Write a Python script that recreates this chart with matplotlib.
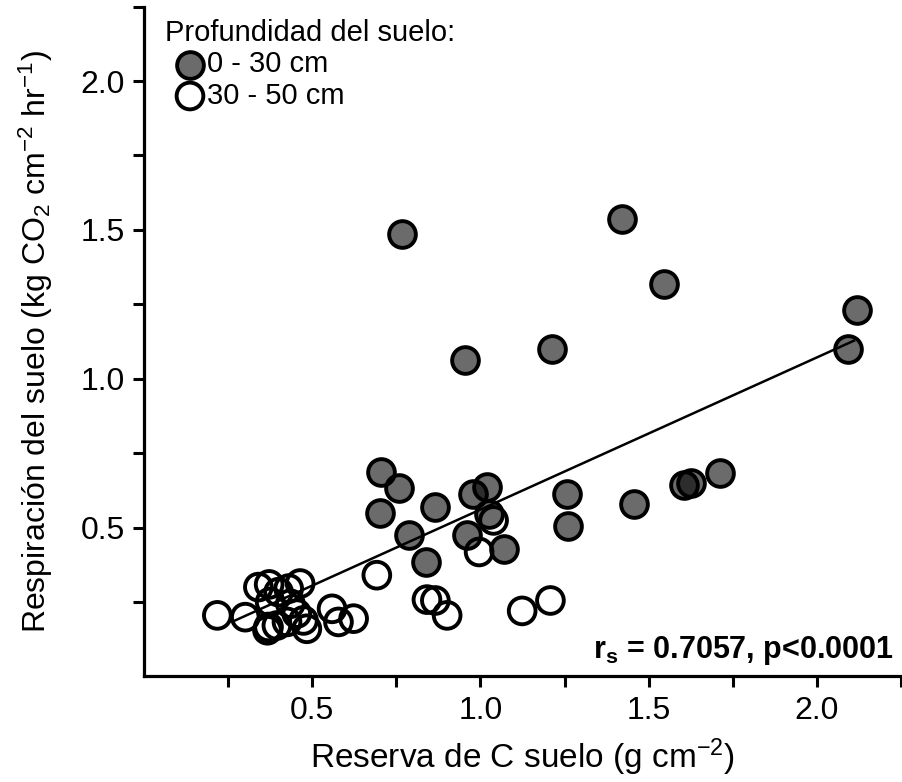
import numpy as np
import matplotlib
matplotlib.use("Agg")
import matplotlib.pyplot as plt
from matplotlib.ticker import FixedLocator

plt.rcParams['font.family'] = ['Liberation Sans', 'DejaVu Sans']
plt.rcParams['mathtext.fontset'] = 'custom'
plt.rcParams['mathtext.rm'] = 'Liberation Sans'
plt.rcParams['mathtext.it'] = 'Liberation Sans:italic'
plt.rcParams['mathtext.bf'] = 'Liberation Sans:bold'

# 0 - 30 cm (filled)
x_0_30 = [0.768, 1.420, 1.547, 2.118, 2.091, 1.214, 0.953, 0.705, 0.759, 0.702,
          0.866, 0.789, 0.839, 0.978, 1.018, 1.024, 0.960, 1.069, 1.712, 1.625,
          1.605, 1.256, 1.259, 1.457]
y_0_30 = [1.486, 1.538, 1.317, 1.230, 1.101, 1.101, 1.062, 0.685, 0.634, 0.548,
          0.568, 0.476, 0.383, 0.614, 0.636, 0.545, 0.476, 0.428, 0.682, 0.650,
          0.642, 0.612, 0.504, 0.580]

# 30 - 50 cm (open)
x_30_50 = [0.996, 0.692, 0.841, 0.866, 0.901, 1.124, 1.208, 1.039, 0.218, 0.301,
           0.340, 0.372, 0.400, 0.464, 0.430, 0.375, 0.435, 0.454, 0.370, 0.395,
           0.367, 0.425, 0.484, 0.474, 0.559, 0.578, 0.623]
y_30_50 = [0.418, 0.340, 0.258, 0.255, 0.205, 0.220, 0.255, 0.524, 0.205, 0.199,
           0.300, 0.309, 0.283, 0.312, 0.295, 0.250, 0.244, 0.211, 0.166, 0.171,
           0.155, 0.183, 0.160, 0.188, 0.227, 0.183, 0.194]

# regression line
fit_x_range = [0.27, 2.11]
fit_slope = 0.511
fit_intercept = 0.0495

labels = ["0 - 30 cm", "30 - 50 cm"]
legend_title = "Profundidad del suelo:"
stat_text = r"r$_{\mathbf{s}}$ = 0.7057, p<0.0001"
xlabel = r"Reserva de C suelo (g cm$^{-2}$)"
ylabel = r"Respiración del suelo (kg CO$_2$ cm$^{-2}$ hr$^{-1}$)"
tick_vals = [0.5, 1.0, 1.5, 2.0]
tick_labels = ["0.5", "1.0", "1.5", "2.0"]
minor_vals = [0.25, 0.75, 1.25, 1.75, 2.25]

fig = plt.figure(figsize=(9.03, 7.82), dpi=100)
ax = fig.add_axes([144/903, 1 - 676.4/782, (901 - 144)/903, (676.4 - 6.6)/782])

lx = np.array(fit_x_range)
ax.plot(lx, fit_intercept + fit_slope * lx, color='black', lw=1.8, zorder=2)

msize = 370
lw = 2.8
ax.scatter(x_30_50, y_30_50, s=msize, facecolors='none', edgecolors='black',
           linewidths=lw, zorder=3, label=labels[1])
ax.scatter(x_0_30, y_0_30, s=msize, facecolors=(0, 0, 0, 0.58), edgecolors='black',
           linewidths=lw, zorder=4, label=labels[0])

ax.set_xlim(0, 2.25)
ax.set_ylim(0, 2.25)
ax.xaxis.set_major_locator(FixedLocator(tick_vals))
ax.xaxis.set_minor_locator(FixedLocator(minor_vals))
ax.yaxis.set_major_locator(FixedLocator(tick_vals))
ax.yaxis.set_minor_locator(FixedLocator(minor_vals))
ax.set_xticklabels(tick_labels)
ax.set_yticklabels(tick_labels)

for side in ['top', 'right']:
    ax.spines[side].set_visible(False)
for side in ['left', 'bottom']:
    ax.spines[side].set_linewidth(2.3)
    ax.spines[side].set_clip_on(False)

ax.tick_params(which='both', direction='out', length=8, width=2.2, labelsize=23,
               color='black', labelcolor='black', pad=6)

ax.set_xlabel(xlabel, fontsize=24, labelpad=8)
ax.set_ylabel(ylabel, fontsize=23, labelpad=18)

ax.text(2.23, 0.062, stat_text, fontsize=22, fontweight='bold', ha='right',
        va='baseline', transform=ax.transData)

handles, labs = ax.get_legend_handles_labels()
order = [1, 0]
leg = ax.legend([handles[i] for i in order], [labs[i] for i in order],
                title=legend_title, loc='upper left',
                bbox_to_anchor=(0.028, 0.982), frameon=False, fontsize=21,
                title_fontsize=21, alignment='left', handlelength=1.7,
                handletextpad=-0.25, borderpad=0, labelspacing=0.12,
                borderaxespad=0)

fig.savefig("out.png", dpi=100)
